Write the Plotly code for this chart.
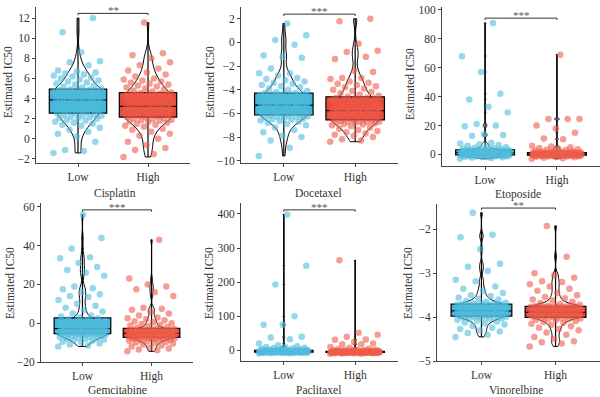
import numpy as np
import plotly.graph_objects as go

groups = ["Low", "High"]
drugs = ["Cisplatin", "Docetaxel", "Etoposide", "Gemcitabine", "Paclitaxel", "Vinorelbine"]
signif = ["**", "***", "***", "***", "***", "**"]
ytitle = "Estimated IC50"

cisplatin_low = [-1.4, -1.2, -1.1, -0.3, 0.2, 0.5, 0.7, 0.9, 1.1, 1.3, 1.4, 1.5, 1.6, 1.7, 1.8, 1.9, 2.0, 2.05, 2.1, 2.15, 2.2, 2.3, 2.35, 2.4, 2.45,
                 2.55, 2.6, 2.65, 2.7, 2.8, 2.85, 2.9, 3.0, 3.05, 3.1, 3.15, 3.2, 3.25, 3.3, 3.35, 3.4, 3.45, 3.5, 3.55, 3.6, 3.65, 3.7, 3.75, 3.8, 3.82,
                 3.88, 3.92, 3.95, 4.0, 4.05, 4.1, 4.15, 4.2, 4.25, 4.3, 4.35, 4.4, 4.45, 4.5, 4.55, 4.6, 4.62, 4.65, 4.7, 4.72, 4.75, 4.8, 4.82, 4.85, 4.88,
                 4.95, 5.0, 5.1, 5.2, 5.3, 5.4, 5.5, 5.6, 5.7, 5.8, 5.9, 6.0, 6.1, 6.2, 6.3, 6.4, 6.5, 6.6, 6.7, 6.8, 7.3, 7.6, 7.7, 8.6, 10.6, 12.0]
cisplatin_high = [-1.8, -1.5, -1.1, -0.9, -0.6, -0.3, 0.0, 0.3, 0.5, 0.7, 0.9, 1.0, 1.2, 1.3, 1.4, 1.5, 1.6, 1.7, 1.75, 1.8, 1.85, 1.9, 1.95, 2.0, 2.05,
                  2.15, 2.2, 2.25, 2.3, 2.35, 2.4, 2.45, 2.5, 2.55, 2.6, 2.65, 2.7, 2.75, 2.8, 2.85, 2.9, 2.92, 2.95, 2.98, 3.0, 3.02, 3.05, 3.08, 3.1, 3.12,
                  3.2, 3.25, 3.3, 3.4, 3.5, 3.55, 3.6, 3.7, 3.75, 3.8, 3.9, 3.95, 4.0, 4.05, 4.1, 4.15, 4.2, 4.25, 4.3, 4.35, 4.38, 4.4, 4.42, 4.45, 4.48,
                  4.55, 4.6, 4.7, 4.8, 4.9, 5.0, 5.1, 5.2, 5.3, 5.4, 5.5, 5.6, 5.7, 5.8, 5.9, 6.0, 6.2, 6.4, 6.6, 6.8, 7.0, 7.3, 7.6, 8.0, 8.3, 8.5, 11.55]

docetaxel_low = [-9.6, -8.9, -8.3, -8.0, -7.9, -7.6, -7.4, -7.2, -7.0, -6.9, -6.8, -6.7, -6.65, -6.6, -6.55, -6.5, -6.45, -6.4, -6.35, -6.3, -6.28, -6.25, -6.22, -6.2, -6.18,
                 -6.1, -6.05, -6.0, -5.95, -5.9, -5.85, -5.8, -5.78, -5.75, -5.7, -5.65, -5.62, -5.6, -5.57, -5.55, -5.5, -5.48, -5.45, -5.42, -5.4, -5.38, -5.36, -5.34, -5.32, -5.31,
                 -5.28, -5.25, -5.2, -5.15, -5.1, -5.05, -5.0, -4.95, -4.9, -4.85, -4.8, -4.75, -4.7, -4.65, -4.6, -4.55, -4.5, -4.45, -4.42, -4.4, -4.38, -4.35, -4.32, -4.3, -4.27,
                 -4.2, -4.1, -4.0, -3.9, -3.8, -3.7, -3.6, -3.5, -3.4, -3.3, -3.2, -3.1, -3.0, -2.8, -2.6, -2.6, -2.2, -1.3, -1.2, -1.1, -0.2, 0.2, 0.6, 1.6]
docetaxel_high = [-8.4, -8.3, -8.2, -8.0, -7.9, -7.8, -7.7, -7.6, -7.5, -7.4, -7.3, -7.2, -7.1, -7.0, -6.95, -6.9, -6.85, -6.8, -6.78, -6.75, -6.72, -6.7, -6.68, -6.65, -6.62,
                  -6.55, -6.5, -6.45, -6.4, -6.35, -6.3, -6.27, -6.24, -6.2, -6.17, -6.14, -6.1, -6.07, -6.04, -6.0, -5.98, -5.96, -5.94, -5.92, -5.9, -5.88, -5.86, -5.84, -5.82, -5.81,
                  -5.78, -5.75, -5.7, -5.65, -5.6, -5.55, -5.5, -5.45, -5.4, -5.35, -5.3, -5.25, -5.2, -5.15, -5.1, -5.05, -5.0, -4.95, -4.9, -4.85, -4.8, -4.75, -4.72, -4.7, -4.67,
                  -4.6, -4.5, -4.4, -4.3, -4.2, -4.1, -4.0, -3.9, -3.8, -3.7, -3.6, -3.5, -3.4, -3.3, -3.1, -3.0, -3.0, -2.5, -2.4, -1.4, -1.2, -0.8, -0.7, -0.1, 1.8, 2.0]

etoposide_low = [-3.0, -2.5, -2.2, -2.0, -1.8, -1.6, -1.5, -1.4, -1.3, -1.2, -1.1, -1.0, -0.9, -0.85, -0.8, -0.75, -0.7, -0.65, -0.6, -0.55, -0.5, -0.48, -0.46, -0.44, -0.42,
                 -0.35, -0.3, -0.2, -0.1, 0.0, 0.05, 0.1, 0.15, 0.2, 0.25, 0.3, 0.35, 0.4, 0.45, 0.5, 0.55, 0.6, 0.65, 0.7, 0.75, 0.8, 0.85, 0.9, 0.95, 0.98,
                 1.05, 1.1, 1.2, 1.3, 1.4, 1.5, 1.6, 1.7, 1.8, 1.9, 2.0, 2.05, 2.1, 2.15, 2.2, 2.3, 2.35, 2.4, 2.45, 2.5, 2.55, 2.6, 2.65, 2.7, 2.75,
                 2.9, 3.0, 3.2, 3.4, 3.6, 3.8, 4.0, 4.3, 4.6, 5.0, 5.5, 6.0, 6.5, 7.0, 7.5, 8.0, 13.0, 13.5, 14.0, 19.5, 20.0, 21.0, 29.0, 33.0, 38.0, 42.0, 57.0, 68.0, 91.0]
etoposide_high = [-3.0, -2.6, -2.3, -2.0, -1.8, -1.6, -1.5, -1.4, -1.3, -1.2, -1.1, -1.0, -0.95, -0.9, -0.85, -0.8, -0.78, -0.75, -0.72, -0.7, -0.68, -0.66, -0.64, -0.62, -0.61,
                  -0.55, -0.5, -0.45, -0.4, -0.35, -0.3, -0.25, -0.2, -0.15, -0.1, -0.05, 0.0, 0.02, 0.05, 0.08, 0.1, 0.12, 0.15, 0.18, 0.2, 0.22, 0.24, 0.26, 0.28, 0.29,
                  0.32, 0.35, 0.4, 0.45, 0.5, 0.55, 0.6, 0.65, 0.7, 0.75, 0.8, 0.85, 0.9, 0.95, 1.0, 1.05, 1.1, 1.12, 1.15, 1.18, 1.2, 1.22, 1.25, 1.27, 1.29,
                  1.4, 1.5, 1.7, 1.9, 2.1, 2.4, 2.7, 3.0, 3.3, 3.6, 4.0, 4.5, 5.0, 5.5, 6.0, 10.5, 11.0, 15.0, 18.0, 20.0, 24.5, 24.5, 24.5, 69.0]

gemcitabine_low = [-12.0, -11.5, -11.0, -10.5, -10.0, -9.5, -9.0, -8.8, -8.5, -8.2, -8.0, -7.8, -7.5, -7.3, -7.0, -6.8, -6.6, -6.4, -6.2, -6.0, -5.9, -5.8, -5.7, -5.6, -5.55,
                   -5.45, -5.4, -5.3, -5.2, -5.1, -5.0, -4.9, -4.8, -4.7, -4.6, -4.5, -4.4, -4.3, -4.2, -4.1, -4.0, -3.95, -3.9, -3.85, -3.8, -3.75, -3.7, -3.65, -3.6, -3.55,
                   -3.4, -3.2, -3.0, -2.8, -2.6, -2.4, -2.2, -2.0, -1.8, -1.6, -1.4, -1.2, -1.0, -0.8, -0.6, -0.4, -0.2, 0.0, 0.1, 0.2, 0.25, 0.3, 0.35, 0.4, 0.45,
                   0.8, 1.2, 1.6, 2.0, 2.5, 3.0, 3.5, 4.0, 5.0, 6.0, 7.0, 8.0, 9.0, 10.0, 12.0, 13.5, 14.0, 15.0, 16.0, 17.5, 18.0, 19.0, 24.5, 26.0, 27.5, 29.0, 31.0, 33.5, 34.0, 38.5, 44.0, 56.0]
gemcitabine_high = [-14.5, -14.0, -13.5, -13.0, -12.5, -12.0, -11.5, -11.0, -10.5, -10.2, -10.0, -9.7, -9.4, -9.1, -8.9, -8.7, -8.5, -8.3, -8.1, -7.9, -7.8, -7.7, -7.65, -7.6, -7.55,
                    -7.4, -7.3, -7.2, -7.1, -7.0, -6.9, -6.8, -6.7, -6.6, -6.5, -6.4, -6.3, -6.2, -6.1, -6.0, -5.95, -5.9, -5.85, -5.8, -5.75, -5.7, -5.65, -5.6, -5.57, -5.53,
                    -5.4, -5.3, -5.2, -5.1, -5.0, -4.9, -4.8, -4.7, -4.6, -4.5, -4.4, -4.3, -4.2, -4.1, -4.0, -3.95, -3.9, -3.85, -3.8, -3.75, -3.7, -3.65, -3.6, -3.55, -3.52,
                    -3.3, -3.0, -2.7, -2.4, -2.0, -1.6, -1.2, -0.8, -0.4, 0.0, 0.5, 1.0, 1.5, 2.0, 2.5, 3.0, 4.0, 5.0, 6.0, 7.0, 7.5, 8.0, 14.0, 16.0, 17.5, 19.0, 20.0, 23.0, 43.0]

paclitaxel_low = [-9.0, -8.5, -8.0, -7.8, -7.6, -7.4, -7.2, -7.0, -6.8, -6.6, -6.4, -6.2, -6.0, -5.9, -5.8, -5.7, -5.6, -5.5, -5.4, -5.3, -5.25, -5.2, -5.15, -5.1, -5.05,
                  -4.9, -4.8, -4.7, -4.6, -4.5, -4.4, -4.3, -4.2, -4.1, -4.0, -3.9, -3.8, -3.7, -3.6, -3.5, -3.45, -3.4, -3.35, -3.3, -3.25, -3.2, -3.15, -3.1, -3.05, -3.02,
                  -2.9, -2.8, -2.6, -2.4, -2.2, -2.0, -1.8, -1.6, -1.4, -1.2, -1.0, -0.9, -0.8, -0.7, -0.6, -0.5, -0.45, -0.4, -0.35, -0.3, -0.25, -0.2, -0.15, -0.1, -0.05,
                  0.5, 1.0, 1.5, 2.0, 3.0, 4.0, 5.0, 6.0, 7.0, 8.0, 9.0, 10.0, 12.0, 15.0, 20.0, 33.0, 38.0, 40.0, 75.0, 75.0, 100.0, 193.0, 248.0, 398.0]
paclitaxel_high = [-10.0, -9.5, -9.0, -8.6, -8.3, -8.0, -7.8, -7.6, -7.4, -7.2, -7.0, -6.9, -6.8, -6.7, -6.6, -6.5, -6.4, -6.35, -6.3, -6.25, -6.2, -6.15, -6.1, -6.05, -6.02,
                   -5.95, -5.9, -5.85, -5.8, -5.75, -5.7, -5.6, -5.5, -5.4, -5.3, -5.2, -5.1, -5.0, -4.95, -4.9, -4.85, -4.8, -4.75, -4.7, -4.65, -4.6, -4.58, -4.55, -4.52, -4.51,
                   -4.4, -4.3, -4.2, -4.1, -4.0, -3.9, -3.8, -3.7, -3.6, -3.5, -3.4, -3.3, -3.2, -3.1, -3.0, -2.95, -2.9, -2.85, -2.8, -2.75, -2.7, -2.65, -2.6, -2.55, -2.52,
                   -2.3, -2.0, -1.6, -1.2, -0.8, -0.4, 0.0, 0.5, 1.0, 2.0, 3.0, 4.0, 5.0, 8.0, 10.0, 18.0, 18.0, 20.0, 25.0, 31.0, 32.0, 40.0, 46.0, 52.0, 264.0]

vinorelbine_low = [-4.45, -4.4, -4.36, -4.33, -4.3, -4.27, -4.24, -4.2, -4.17, -4.14, -4.12, -4.1, -4.08, -4.06, -4.05, -4.04, -4.03, -4.02, -4.01, -4.0, -3.995, -3.99, -3.985, -3.98, -3.975,
                   -3.96, -3.955, -3.95, -3.945, -3.94, -3.935, -3.93, -3.925, -3.92, -3.915, -3.91, -3.905, -3.9, -3.895, -3.89, -3.885, -3.88, -3.875, -3.87, -3.868, -3.865, -3.862, -3.858, -3.855, -3.852,
                   -3.845, -3.84, -3.83, -3.82, -3.81, -3.8, -3.79, -3.78, -3.77, -3.76, -3.755, -3.75, -3.745, -3.74, -3.735, -3.73, -3.725, -3.72, -3.717, -3.714, -3.711, -3.708, -3.705, -3.703, -3.701,
                   -3.69, -3.67, -3.65, -3.63, -3.6, -3.58, -3.55, -3.52, -3.5, -3.45, -3.4, -3.35, -3.3, -3.18, -3.15, -2.95, -2.85, -2.78, -2.45, -2.18, -2.12, -1.62]
vinorelbine_high = [-4.67, -4.6, -4.57, -4.55, -4.5, -4.45, -4.4, -4.35, -4.3, -4.27, -4.24, -4.21, -4.18, -4.15, -4.13, -4.11, -4.09, -4.07, -4.06, -4.05, -4.04, -4.03, -4.02, -4.01, -4.005,
                    -3.995, -3.99, -3.985, -3.98, -3.975, -3.97, -3.965, -3.96, -3.955, -3.95, -3.945, -3.94, -3.935, -3.93, -3.925, -3.92, -3.915, -3.91, -3.905, -3.9, -3.897, -3.894, -3.891, -3.888, -3.885,
                    -3.875, -3.87, -3.86, -3.85, -3.84, -3.83, -3.82, -3.81, -3.8, -3.795, -3.79, -3.785, -3.78, -3.775, -3.77, -3.768, -3.766, -3.764, -3.762, -3.76, -3.758, -3.756, -3.754, -3.752, -3.751,
                    -3.74, -3.72, -3.7, -3.68, -3.65, -3.62, -3.6, -3.57, -3.54, -3.5, -3.45, -3.4, -3.35, -3.3, -3.25, -3.2, -3.18, -3.1, -3.05, -3.0, -2.62, -1.92]

yticks = [[-2, 0, 2, 4, 6, 8, 10, 12], [-10, -8, -6, -4, -2, 0, 2], [0, 20, 40, 60, 80, 100],
          [-20, 0, 20, 40, 60], [0, 100, 200, 300, 400], [-5, -4, -3, -2]]

data = [(cisplatin_low, cisplatin_high), (docetaxel_low, docetaxel_high), (etoposide_low, etoposide_high),
        (gemcitabine_low, gemcitabine_high), (paclitaxel_low, paclitaxel_high), (vinorelbine_low, vinorelbine_high)]

# ---- layout / style settings (pixels) ----
W, H = 600, 397
px_dom = [(36, 190, 7, 163), (241, 398, 7, 163), (442, 600, 7, 166),
          (41, 193, 203, 362), (241, 398, 203, 361), (437, 600, 204, 361)]
ytitle_px = [(8, 82), (210, 82), (410, 84), (10, 283), (209, 283), (408, 283)]
xtitle_px = [(115, 193), (318, 193), (518, 194), (117, 390), (318, 390), (516, 390)]
yranges = [[-2.4, 13.1], [-10.2, 3.0], [-8, 102], [-20, 62], [-31, 432], [-5, -1.42]]
box_fill = ["#42b5d8", "#e84b3a"]
pt_col = ["rgba(80,188,222,0.6)", "rgba(238,92,74,0.6)"]
FONT = "Liberation Serif"
BOXW = 0.82
VIOW = 0.8
JIT = 0.7


def nrd0(v):
    v = np.asarray(v, float)
    sd = v.std(ddof=1)
    iqr = np.subtract(*np.percentile(v, [75, 25]))
    lo = min(sd, iqr / 1.34) if iqr > 0 else sd
    return 0.9 * lo * len(v) ** -0.2


fig = go.Figure()
layout = dict(width=W, height=H, margin=dict(l=0, r=0, t=0, b=0, autoexpand=False), paper_bgcolor="white",
              plot_bgcolor="white", showlegend=False, font=dict(family=FONT, size=11, color="#333"))
shapes, annos = [], []

for i, (drug, (lo, hi)) in enumerate(zip(drugs, data)):
    ax = "" if i == 0 else str(i + 1)
    xref, yref = "x" + ax, "y" + ax
    for p, vals in enumerate((lo, hi)):
        v = np.asarray(vals, float)
        q1, med, q3 = np.percentile(v, [25, 50, 75])
        fig.add_trace(go.Box(x=[p], q1=[q1], median=[med], q3=[q3], lowerfence=[v.min()], upperfence=[v.max()],
                             width=BOXW, whiskerwidth=0, fillcolor=box_fill[p], line=dict(color="black", width=1.2),
                             hoverinfo="skip", xaxis=xref, yaxis=yref))
        jit = ((np.arange(len(v)) * 0.6180339887) % 1 - 0.5) * JIT
        fig.add_trace(go.Scatter(x=p + jit, y=v, mode="markers",
                                 marker=dict(size=6.5, color=pt_col[p], line=dict(width=0)),
                                 hoverinfo="skip", xaxis=xref, yaxis=yref))
        fig.add_trace(go.Violin(x0=p, y=v, width=VIOW, spanmode="hard", points=False, bandwidth=nrd0(v),
                                fillcolor="rgba(255,255,255,0.3)", line=dict(color="black", width=1),
                                hoverinfo="skip", scalemode="width", xaxis=xref, yaxis=yref))
    x0, x1, y0, y1 = px_dom[i]
    layout["xaxis" + ax] = dict(domain=[x0 / W, x1 / W], range=[-0.6, 1.6], tickvals=[0, 1], ticktext=groups,
                                showline=True, linecolor="#444", linewidth=1, ticks="outside", ticklen=3,
                                tickcolor="#444", showgrid=False, zeroline=False, anchor=yref, automargin=False,
                                tickfont=dict(size=11.5, color="#333"))
    layout["yaxis" + ax] = dict(domain=[1 - y1 / H, 1 - y0 / H], range=yranges[i], tickvals=yticks[i],
                                showline=True, linecolor="#444", linewidth=1, ticks="outside", ticklen=3,
                                tickcolor="#444", showgrid=False, zeroline=False, anchor=xref, automargin=False,
                                tickfont=dict(size=11.5, color="#333"))
    tx, ty = ytitle_px[i]
    annos.append(dict(x=tx / W, y=1 - ty / H, xref="paper", yref="paper", text=ytitle, textangle=-90,
                      showarrow=False, xanchor="center", yanchor="middle", font=dict(size=11.5, color="#333")))
    tx, ty = xtitle_px[i]
    annos.append(dict(x=tx / W, y=1 - ty / H, xref="paper", yref="paper", text=drug,
                      showarrow=False, xanchor="center", yanchor="middle", font=dict(size=11.5, color="#333")))
    allv = np.concatenate([lo, hi])
    span = yranges[i][1] - yranges[i][0]
    yb = allv.max() + 0.03 * span
    tick = 0.012 * span
    for (ax0, ay0, ax1, ay1) in [(0, yb, 1, yb), (0, yb, 0, yb - tick), (1, yb, 1, yb - tick)]:
        shapes.append(dict(type="line", xref=xref, yref=yref, x0=ax0, y0=ay0, x1=ax1, y1=ay1,
                           line=dict(color="#333", width=1)))
    annos.append(dict(x=0.5, y=yb, xref=xref, yref=yref, text=signif[i], showarrow=False, yanchor="bottom",
                      yshift=-5, font=dict(size=11, color="#555")))

layout["shapes"] = shapes
layout["annotations"] = annos
fig.update_layout(**layout)
fig.write_html("out.html", config={"displayModeBar": False},
               post_script="document.body.style.margin='0';document.body.style.overflow='hidden';")
